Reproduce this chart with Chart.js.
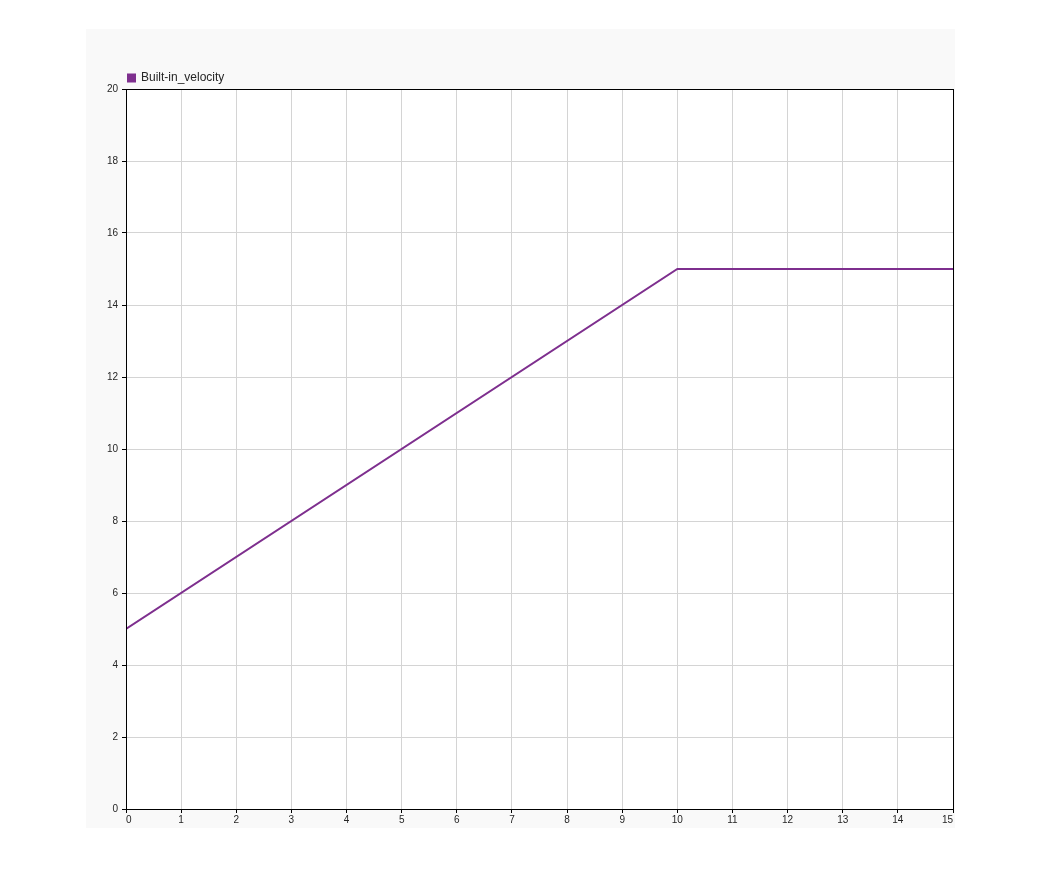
<!DOCTYPE html>
<html>
<head>
<meta charset="utf-8">
<script src="https://cdn.jsdelivr.net/npm/chart.js@4"></script>
<style>
  html, body { margin: 0; padding: 0; background: #ffffff; }
  #wrap { position: relative; width: 1043px; height: 893px; }
</style>
</head>
<body>
<div id="wrap"><canvas id="chartVelocidad" width="1043" height="893"></canvas></div>
<script>
// datos
const tiempo = [0, 10, 15]
const velocidad = [5, 15, 15]
const nombreSerie = 'Built-in_velocity'
const ticksX = [0, 1, 2, 3, 4, 5, 6, 7, 8, 9, 10, 11, 12, 13, 14, 15]
const ticksY = [0, 2, 4, 6, 8, 10, 12, 14, 16, 18, 20]

const puntos = tiempo.map((t, i) => ({ x: t, y: velocidad[i] }))

const canvas = document.getElementById('chartVelocidad')
const context = canvas.getContext('2d')

// panel gris de fondo y marco negro del area
const fondoPanel = {
    id: 'fondoPanel',
    beforeDraw(chart) {
        const ctx = chart.ctx
        ctx.save()
        ctx.fillStyle = '#f9f9f9'
        ctx.fillRect(86, 29, 869, 799)
        const a = chart.chartArea
        ctx.fillStyle = '#ffffff'
        ctx.fillRect(a.left, a.top, a.right - a.left, a.bottom - a.top)
        ctx.restore()
    },
    afterDraw(chart) {
        const ctx = chart.ctx
        const a = chart.chartArea
        ctx.save()
        ctx.strokeStyle = '#000000'
        ctx.lineWidth = 1
        ctx.strokeRect(Math.round(a.left) + 0.5, Math.round(a.top) + 0.5, Math.round(a.right - a.left), Math.round(a.bottom - a.top))
        ctx.restore()
    }
}

const alturaLeyenda = {
    id: 'alturaLeyenda',
    beforeInit(chart) {
        const fitOriginal = chart.legend.fit
        chart.legend.fit = function () {
            fitOriginal.bind(chart.legend)()
            this.height = 45
        }
    }
}

const fuente = "'Liberation Sans', Arial, sans-serif"

const chartVelocidad = new Chart(context, {
    type: 'line',
    data: {
        datasets: [
            {
                label: nombreSerie,
                data: puntos,
                borderColor: '#7e2f8e',
                backgroundColor: '#7e2f8e',
                borderWidth: 2,
                pointRadius: 0,
                tension: 0,
                fill: false
            }
        ]
    },
    options: {
        responsive: false,
        animation: false,
        layout: {
            padding: { left: 100, right: 90, top: 44, bottom: 60 }
        },
        plugins: {
            tooltip: { enabled: false },
            legend: {
                position: 'top',
                align: 'start',
                labels: {
                    boxWidth: 7,
                    boxHeight: 7,
                    padding: 28,
                    color: '#262626',
                    font: { family: fuente, size: 12 }
                }
            }
        },
        scales: {
            x: {
                type: 'linear',
                min: 0,
                max: 15,
                afterFit: (escala) => { escala.height = 24 },
                afterBuildTicks: (escala) => { escala.ticks = ticksX.map(v => ({ value: v })) },
                grid: { color: '#d4d4d4', tickColor: '#000000', tickLength: 4 },
                border: { color: '#000000' },
                ticks: {
                    color: '#262626',
                    padding: 1,
                    maxRotation: 0,
                    align: 'inner',
                    font: { family: fuente, size: 10 }
                }
            },
            y: {
                min: 0,
                max: 20,
                afterFit: (escala) => { escala.width = 26 },
                afterBuildTicks: (escala) => { escala.ticks = ticksY.map(v => ({ value: v })) },
                grid: { color: '#d4d4d4', tickColor: '#000000', tickLength: 4 },
                border: { color: '#000000' },
                ticks: {
                    color: '#262626',
                    padding: 4,
                    font: { family: fuente, size: 10 }
                }
            }
        }
    },
    plugins: [fondoPanel, alturaLeyenda]
})
</script>
</body>
</html>
